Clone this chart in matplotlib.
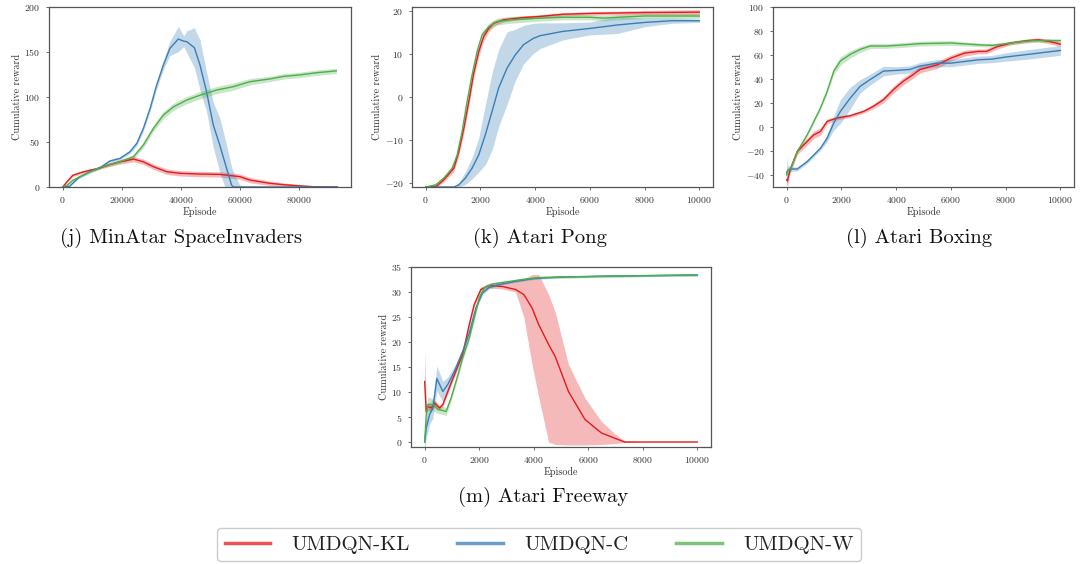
import matplotlib
matplotlib.use("Agg")
import matplotlib.pyplot as plt
import numpy as np

plt.rcParams.update({
    "font.family": "serif",
    "font.serif": ["cmr10", "DejaVu Serif"],
    "mathtext.fontset": "cm",
    "axes.formatter.use_mathtext": True,
    "axes.unicode_minus": True,
})

COLORS = {"KL": "#e41a1c", "C": "#377eb8", "W": "#4daf4a"}
LABELS = {"KL": "UMDQN-KL", "C": "UMDQN-C", "W": "UMDQN-W"}

# ---------------- MinAtar SpaceInvaders ----------------
si_kl_x = [0, 1500, 3400, 6800, 12400, 16000, 19400, 24000, 27300, 30700, 35200, 39700, 46500,
           53200, 60000, 63400, 70000, 75000, 80000, 85000, 93000]
si_kl = [0, 6, 13, 16.7, 21, 25, 28, 31, 28, 22.6, 17, 15.2, 14.4, 14, 11.5, 7.7, 4.2, 2.5, 1.3, 0.3, 0]
si_kl_sd = [0.5, 1, 1.5, 1.5, 1.5, 2, 2.5, 3, 3, 3, 3, 3, 3, 3, 3, 3, 2.5, 2, 1.5, 1, 0.5]

si_c_x = [0, 2300, 5600, 9000, 12400, 16000, 19400, 22800, 25100, 27300, 29600, 31800, 34100, 36300,
          39150, 41000, 42000, 44600, 46500, 48700, 51000, 53200, 55500, 57200, 57800, 60000, 70000, 93000]
si_c = [0, 0.7, 11, 16.7, 21, 28.9, 31.8, 39.2, 48.5, 65, 87.4, 113, 135.5, 154,
        164.4, 162, 161.5, 154.8, 135.5, 106, 68.9, 46.6, 20.7, 2.2, 0, 0, 0, 0]
si_c_sd = [0.3, 0.5, 1, 1, 1, 1.5, 1.5, 2, 2.5, 3, 3.5, 4, 5, 8,
           14, 6, 12, 22, 28, 22, 25, 30, 26, 20, 17, 2, 0.3, 0.3]

si_w_x = [0, 1500, 3400, 6800, 12700, 19400, 24000, 27300, 30700, 34100, 37500, 42000, 46500,
          52100, 57800, 63400, 70000, 75000, 80200, 86000, 92700]
si_w = [0, 2, 7.4, 13, 22, 28.1, 33.7, 46.6, 65, 80, 89, 96.6, 102, 107.7, 111.5, 117, 120,
        123, 124.5, 127, 129]
si_w_sd = [0.5, 1, 1, 1.5, 1.5, 2, 2.5, 3, 3.5, 4, 4, 4, 4, 4, 4, 3.5, 3, 3, 3, 3, 3]

# ---------------- Atari Pong ----------------
pg_kl_x = [0, 400, 667, 1030, 1212, 1394, 1576, 1757, 1939, 2121, 2303, 2485, 2848, 3500, 4180,
           5000, 6000, 8000, 10000]
pg_kl = [-21, -20.8, -19.3, -16.6, -12.7, -7.3, -1, 5.6, 10.6, 14.1, 16, 17.2, 18, 18.5, 18.8,
         19.3, 19.5, 19.7, 19.8]
pg_kl_sd = [0.1, 0.3, 0.5, 0.8, 1, 1.2, 1.2, 1.2, 1.2, 1, 0.8, 0.6, 0.5, 0.4, 0.4, 0.4, 0.4, 0.5, 0.6]

pg_c_x = [0, 1030, 1212, 1454, 1697, 1939, 2181, 2424, 2666, 2970, 3272, 3575, 3939, 4180,
          5000, 6000, 7000, 8000, 9000, 10000]
pg_c = [-21, -21, -20.5, -18.9, -16.6, -13.5, -8.8, -3.4, 2.1, 6.7, 9.8, 12.2, 13.7, 14.3,
        15.3, 16, 16.8, 17.4, 17.8, 17.8]
pg_c_sd = [0.05, 0.1, 0.5, 1.5, 2.5, 4, 7, 9, 9, 8.5, 6, 4.5, 3.5, 3, 2, 1.5, 2, 1, 0.6, 0.4]

pg_w_x = [0, 364, 667, 970, 1151, 1333, 1515, 1697, 1879, 2060, 2303, 2606, 3090, 4180,
          5000, 6000, 6500, 7000, 8000, 10000]
pg_w = [-21, -20.5, -18.9, -16.6, -13.5, -8, -1, 5.2, 10.6, 14.5, 16.4, 17.6, 18, 18.4,
        18.6, 18.6, 18.4, 18.6, 18.9, 18.9]
pg_w_sd = [0.1, 0.3, 0.4, 0.5, 0.5, 0.6, 0.6, 0.6, 0.6, 0.6, 0.8, 0.8, 0.8, 0.7, 0.6, 0.6, 0.6,
           0.6, 0.6, 0.6]

# ---------------- Atari Boxing ----------------
bx_kl_x = [0, 30, 120, 388, 750, 994, 1236, 1479, 1842, 2327, 2812, 3175, 3539, 3903, 4266,
           4630, 4872, 5500, 6000, 6500, 7000, 7300, 7700, 8200, 8800, 9200, 9600, 10000]
bx_kl = [-44, -45, -36, -20.4, -12, -6.5, -3.7, 4.7, 7.5, 9.4, 13, 17.3, 22.8, 31.2, 38.2,
         43.8, 48, 51.8, 57.4, 61.6, 63, 63, 67, 70, 72, 72.7, 71.3, 69]
bx_kl_sd = [4, 4, 3, 2.5, 3, 3, 3, 2, 1.5, 1.5, 1.5, 2, 2.5, 3, 3, 3, 3, 3, 2.5, 2.5, 2, 2, 2,
            1.5, 1.5, 1.5, 2, 2]

bx_c_x = [0, 40, 145, 388, 750, 1236, 1479, 1721, 1963, 2327, 2690, 3054, 3539, 4024, 4508,
          4872, 5500, 6000, 6500, 7000, 7500, 8000, 9000, 10000]
bx_c = [-38, -36, -35, -35, -28.8, -17.7, -9.3, 3.3, 13, 24.2, 34, 39.6, 46.6, 47.2, 48,
        50.8, 53.2, 53.2, 54.6, 56, 56.6, 58.3, 61, 63.8]
bx_c_sd = [14, 4, 2, 1.5, 1.5, 1.5, 3, 6, 10, 9, 5.5, 4.5, 4, 3, 3, 3, 3, 3, 3, 3, 3, 3.5, 4, 4]

bx_w_x = [0, 24, 145, 388, 750, 1236, 1479, 1721, 1963, 2327, 2690, 3054, 3660, 4266, 4872,
          6000, 7000, 7500, 8000, 8500, 9000, 10000]
bx_w = [-40, -37.2, -34.4, -20.4, -6.5, 15.9, 29.8, 46.6, 55, 60.6, 64.7, 67.5, 67.5, 68.4, 69.5,
        70, 68.5, 68, 69.4, 71, 72, 72]
bx_w_sd = [6, 3, 2, 1.5, 1.5, 1.5, 2, 3, 3.5, 3, 2.5, 2, 2, 2, 2, 2, 1.5, 1.5, 1.5, 1.5, 1.5, 1.5]

# ---------------- Atari Freeway ----------------
fw_kl_x = [0, 60, 121, 242, 364, 545, 667, 848, 1090, 1394, 1636, 1818, 2060, 2363, 2848, 3333,
           3636, 3939, 4180, 4545, 4788, 5273, 5879, 6485, 7000, 7333, 8000, 10000]
fw_kl = [12.1, 6.1, 7.1, 6.8, 7.8, 6.8, 7.5, 10.1, 13.5, 17.5, 23.5, 27.5, 30.5, 31.3, 31.1, 30.5,
         29.5, 26.8, 23.5, 19.5, 17.1, 10.1, 4.5, 1.8, 0.7, 0, 0, 0]
fw_kl_lo = [6, 5.5, 6.3, 6.2, 7.2, 6.3, 7, 9.6, 13, 17, 23, 27, 30, 30.8, 30.6, 30,
            25, 15.5, 9, 0, -0.5, -0.6, -0.6, -0.5, -0.3, -0.1, 0, 0]
fw_kl_hi = [18.5, 7, 8, 7.4, 8.4, 7.3, 8, 10.6, 14, 18, 24, 28, 31, 31.8, 31.8, 32.3,
            32.6, 33.5, 33.5, 29.5, 26, 15.5, 8.8, 4.1, 1.5, 0.3, 0, 0]

fw_c_x = [0, 60, 182, 303, 448, 667, 848, 1090, 1394, 1636, 1879, 2121, 2363, 2727, 3300, 4000,
          5000, 7000, 10000]
fw_c = [0, 2.8, 5.5, 6.8, 12.7, 10.1, 11.5, 14.1, 18.1, 21.8, 26.8, 29.8, 30.9, 31.5, 32.1, 32.7,
        33, 33.2, 33.4]
fw_c_sd = [2, 2, 2, 2, 2.5, 2, 1.5, 1, 0.5, 0.5, 0.5, 0.4, 0.3, 0.2, 0.2, 0.2, 0.2, 0.2, 0.2]

fw_w_x = [0, 60, 121, 303, 485, 667, 788, 970, 1151, 1394, 1636, 1818, 2000, 2181, 2485, 3090,
          3697, 4180, 5000, 7000, 10000]
fw_w = [0, 5.5, 7.5, 7.5, 6.5, 6.3, 6.1, 8.8, 12.1, 16.8, 20.8, 24.8, 28.8, 30.8, 31.6, 32.1,
        32.6, 32.9, 33, 33.2, 33.4]
fw_w_sd = [1.5, 1.5, 1.5, 1.2, 0.8, 0.8, 0.8, 0.6, 0.5, 0.5, 0.5, 0.5, 0.4, 0.3, 0.3, 0.2, 0.2,
           0.2, 0.2, 0.2, 0.2]


def band(ax, key, x, m, sd=None, lo=None, hi=None):
    x = np.asarray(x, float)
    m = np.asarray(m, float)
    if sd is not None:
        sd = np.asarray(sd, float)
        lo, hi = m - sd, m + sd
    ax.fill_between(x, lo, hi, color=COLORS[key], alpha=0.3, lw=0)
    ax.plot(x, m, color=COLORS[key], lw=1.0, label=LABELS[key])


def style(ax, xlim, ylim, xticks, yticks):
    ax.set_xlim(*xlim)
    ax.set_ylim(*ylim)
    ax.set_xticks(xticks)
    ax.set_yticks(yticks)
    for s in ax.spines.values():
        s.set_color("#555555")
        s.set_linewidth(0.9)
    ax.tick_params(labelsize=7, colors="#555555", labelcolor="#333333", length=2.5, width=0.6)
    ax.set_xlabel("Episode", fontsize=7.3, color="#333333", labelpad=1)
    ax.set_ylabel("Cumulative reward", fontsize=7.3, color="#333333", labelpad=2)


W, H = 1091, 564
fig = plt.figure(figsize=(W / 100, H / 100), dpi=100)


def axes_px(left, top, right, bottom):
    return fig.add_axes([left / W, 1 - bottom / H, (right - left) / W, (bottom - top) / H])


ax_j = axes_px(49, 7, 351, 187)
band(ax_j, "KL", si_kl_x, si_kl, si_kl_sd)
band(ax_j, "C", si_c_x, si_c, si_c_sd)
band(ax_j, "W", si_w_x, si_w, si_w_sd)
style(ax_j, (-4650, 97650), (0, 200), range(0, 80001, 20000), range(0, 201, 50))

ax_k = axes_px(412, 7, 713, 187)
band(ax_k, "KL", pg_kl_x, pg_kl, pg_kl_sd)
band(ax_k, "C", pg_c_x, pg_c, pg_c_sd)
band(ax_k, "W", pg_w_x, pg_w, pg_w_sd)
style(ax_k, (-500, 10500), (-21, 21), range(0, 10001, 2000), range(-20, 21, 10))

ax_l = axes_px(773, 7, 1074, 187)
band(ax_l, "KL", bx_kl_x, bx_kl, bx_kl_sd)
band(ax_l, "C", bx_c_x, bx_c, bx_c_sd)
band(ax_l, "W", bx_w_x, bx_w, bx_w_sd)
style(ax_l, (-500, 10500), (-50, 100), range(0, 10001, 2000), range(-40, 101, 20))

ax_m = axes_px(411, 267, 711, 447)
band(ax_m, "KL", fw_kl_x, fw_kl, lo=fw_kl_lo, hi=fw_kl_hi)
band(ax_m, "C", fw_c_x, fw_c, fw_c_sd)
band(ax_m, "W", fw_w_x, fw_w, fw_w_sd)
style(ax_m, (-500, 10500), (-1, 35), range(0, 10001, 2000), range(0, 36, 5))

captions = [("(j) MinAtar SpaceInvaders", 181, 238), ("(k) Atari Pong", 540, 238),
            ("(l) Atari Boxing", 919, 238), ("(m) Atari Freeway", 543, 497)]
for text, cx, cy in captions:
    fig.text(cx / W, 1 - cy / H, text, ha="center", va="center", fontsize=14.8, color="#111111")

handles, labels = ax_j.get_legend_handles_labels()
leg = fig.legend(handles, labels, loc="upper center", bbox_to_anchor=(539 / W, 1 - 528 / H),
                 ncol=3, fontsize=15, frameon=True, fancybox=True, framealpha=1,
                 edgecolor="#cccccc", handlelength=2.2, handletextpad=1.0, columnspacing=2.3,
                 borderpad=0.35, borderaxespad=0)
for line in leg.get_lines():
    line.set_linewidth(2.5)
    line.set_alpha(0.75)
for t in leg.get_texts():
    t.set_color("#222222")

fig.savefig("out.png", dpi=100)
